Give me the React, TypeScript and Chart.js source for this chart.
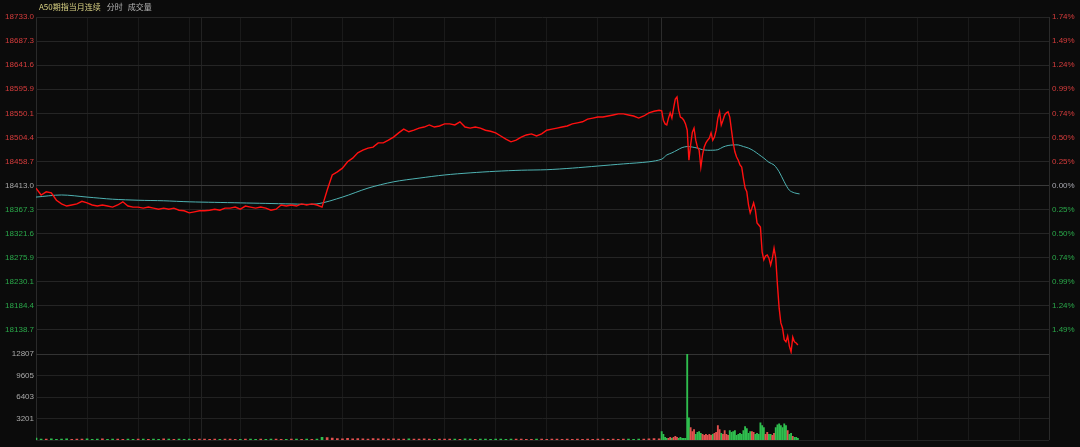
import React, { useEffect, useRef } from 'react';
import { Chart, registerables } from 'chart.js';

Chart.register(...registerables);

// ---------- data ----------
const BASE_PRICE = 18413.0;
const SESSION_MINUTES = 1190; // 17:00-05:15 night (735 min) + 09:00-16:35 day (455 min)
const DAY_OPEN = 735;

const priceTicks = [18733.0, 18687.3, 18641.6, 18595.9, 18550.1, 18504.4, 18458.7, 18413.0, 18367.3, 18321.6, 18275.9, 18230.1, 18184.4, 18138.7, 18093.0];
const priceTickLabels = ['18733.0', '18687.3', '18641.6', '18595.9', '18550.1', '18504.4', '18458.7', '18413.0', '18367.3', '18321.6', '18275.9', '18230.1', '18184.4', '18138.7', ''];
const percentTickLabels = ['1.74%', '1.49%', '1.24%', '0.99%', '0.74%', '0.50%', '0.25%', '0.00%', '0.25%', '0.50%', '0.74%', '0.99%', '1.24%', '1.49%', ''];
const volumeTicks = [12807, 9605, 6403, 3201, 0];
const volumeTickLabels = ['12807', '9605', '6403', '3201', ''];

const gridMinutes = [0, 60, 120, 180, 195, 240, 300, 360, 420, 480, 540, 600, 660, 720, 735, 795, 855, 915, 975, 1035, 1095, 1155, 1190];
const sessionMarks = [195, 735];

const NIGHT_STEP = 6;
const DAY_STEP = 2;
const AVG_NIGHT_STEP = 30;
const AVG_DAY_STEP = 6;

const nightPrice = [
  18408, 18395, 18401, 18399, 18385, 18378, 18374, 18376, 18378, 18383,
  18380, 18376, 18374, 18376, 18374, 18372, 18376, 18382, 18374, 18372,
  18372, 18370, 18372, 18370, 18368, 18370, 18368, 18370, 18366, 18365,
  18361, 18363, 18365, 18365, 18366, 18368, 18366, 18370, 18370, 18372,
  18368, 18374, 18372, 18370, 18372, 18370, 18366, 18368, 18376, 18374,
  18376, 18374, 18378, 18376, 18378, 18376, 18372, 18404, 18433, 18439,
  18446, 18458, 18465, 18475, 18480, 18484, 18486, 18494, 18494, 18499,
  18505, 18513, 18520, 18515, 18518, 18522, 18524, 18528, 18524, 18526,
  18530, 18530, 18528, 18534, 18524, 18522, 18524, 18522, 18518, 18516,
  18513, 18507, 18501, 18496, 18499, 18505, 18509, 18511, 18507, 18511,
  18518, 18520, 18522, 18524, 18526, 18530, 18532, 18534, 18539, 18541,
  18543, 18543, 18545, 18547, 18549, 18549, 18547, 18545, 18541, 18545,
  18551, 18554, 18556,
];

const dayPrice = [
  18555, 18537, 18530, 18528, 18541, 18551, 18541, 18560, 18577, 18581,
  18556, 18543, 18541, 18537, 18530, 18518, 18461, 18490, 18514, 18522,
  18499, 18486, 18480, 18448, 18471, 18486, 18494, 18499, 18503, 18513,
  18499, 18505, 18518, 18541, 18553, 18528, 18537, 18547, 18551, 18553,
  18543, 18518, 18494, 18477, 18467, 18461, 18452, 18448, 18427, 18408,
  18401, 18376, 18361, 18370, 18380, 18367, 18342, 18338, 18334, 18287,
  18272, 18279, 18281, 18275, 18262, 18275, 18294, 18275, 18224, 18180,
  18152, 18142, 18120, 18116, 18127, 18108, 18097, 18125, 18116, 18114,
  18110,
];

const avgNight = [
  18391, 18395, 18391, 18387, 18385, 18384, 18382, 18381, 18380, 18379,
  18378, 18378, 18391, 18408, 18420, 18427, 18433, 18437, 18440, 18442,
  18443, 18446, 18450, 18454, 18458,
];

const avgDay = [
  18463, 18471, 18475, 18480, 18485, 18487, 18486, 18484, 18481, 18480,
  18480, 18481, 18486, 18489, 18490, 18490, 18487, 18484, 18479, 18472,
  18465, 18457, 18452, 18439, 18420, 18404, 18399, 18397,
];

const nightVolume = [
  300, 150, 180, 220, 140, 160, 200, 130, 170, 150,
  190, 140, 160, 210, 130, 150, 170, 140, 180, 120,
  160, 150, 130, 170, 140, 190, 150, 120, 160, 140,
  170, 130, 150, 180, 140, 160, 120, 150, 170, 140,
  130, 160, 150, 140, 180, 120, 150, 160, 140, 130,
  170, 150, 140, 160, 130, 150, 420, 380, 300, 250,
  220, 260, 200, 240, 210, 180, 230, 190, 200, 170,
  210, 180, 160, 200, 170, 150, 190, 160, 140, 180,
  150, 170, 160, 140, 190, 150, 130, 170, 160, 140,
  150, 180, 140, 160, 150, 170, 140, 130, 160, 150,
  140, 170, 150, 130, 160, 140, 150, 120, 170, 140,
  150, 160, 130, 150, 140, 170, 160, 130, 150, 180,
  200, 250, 220,
];

const dayVolume = [
  1295, 863, 432, 288, 288, 432, 288, 432, 576, 432,
  288, 432, 288, 288, 288, 12807, 3310, 1871, 1295, 1583,
  863, 1151, 1295, 1007, 863, 720, 863, 720, 863, 720,
  863, 1007, 1151, 2159, 1583, 1007, 863, 1439, 863, 720,
  1439, 1151, 1295, 1439, 720, 863, 1007, 863, 1439, 2015,
  1727, 1007, 1295, 1295, 1151, 863, 1007, 863, 2590, 2159,
  1871, 863, 1151, 863, 863, 720, 1007, 1871, 2302, 2446,
  2159, 1871, 2446, 2159, 1439, 863, 1007, 576, 432, 432,
  288,
];

// ---------- style ----------
const BG = '#0b0b0b';
const UP = '#e2514f';
const DOWN = '#2fbe4e';
const TEXT_UP = '#d63c3c';
const TEXT_DOWN = '#2aa84a';
const TEXT_FLAT = '#a9a9a9';
const FONT = '"Liberation Sans", Arial, sans-serif';

const xGridColor = (v: number) => {
  if (v === 0 || v === SESSION_MINUTES) return '#2a2a2a';
  if (v === DAY_OPEN) return '#2c2c2c';
  if (sessionMarks.includes(v)) return '#222222';
  return '#1a1a1a';
};

const makeXScale = () => ({
  type: 'linear' as const,
  min: 0,
  max: SESSION_MINUTES,
  offset: false,
  display: true,
  border: { display: false },
  ticks: { display: false },
  grid: {
    offset: false,
    drawTicks: false,
    lineWidth: 1,
    color: (ctx: any) => xGridColor(ctx.tick ? ctx.tick.value : 0),
  },
  afterBuildTicks: (axis: any) => {
    axis.ticks = gridMinutes.map((v) => ({ value: v }));
  },
  afterFit: (axis: any) => {
    axis.height = 0;
  },
});

export default function App() {
  const priceRef = useRef<HTMLCanvasElement>(null);
  const volRef = useRef<HTMLCanvasElement>(null);

  useEffect(() => {
    Chart.defaults.font.family = FONT;
    Chart.defaults.font.size = 8;

    const pricePoints = [
      ...nightPrice.map((p, i) => ({ x: i * NIGHT_STEP, y: p })),
      ...dayPrice.map((p, j) => ({ x: DAY_OPEN + j * DAY_STEP, y: p })),
    ];
    const avgPoints = [
      ...avgNight.map((p, i) => ({ x: i * AVG_NIGHT_STEP, y: p })),
      ...avgDay.map((p, j) => ({ x: DAY_OPEN + j * AVG_DAY_STEP, y: p })),
    ];

    const nightColors = nightVolume.map((_, i) => {
      const prev = i === 0 ? BASE_PRICE : nightPrice[i - 1];
      return nightPrice[i] >= prev ? UP : DOWN;
    });
    const dayColors = dayVolume.map((_, j) => {
      const prev = j === 0 ? nightPrice[nightPrice.length - 1] : dayPrice[j - 1];
      return dayPrice[j] >= prev ? UP : DOWN;
    });

    const priceColor = (v: number) =>
      Math.abs(v - BASE_PRICE) < 0.05 ? TEXT_FLAT : v > BASE_PRICE ? TEXT_UP : TEXT_DOWN;

    const priceChart = new Chart(priceRef.current as HTMLCanvasElement, {
      type: 'line',
      data: {
        datasets: [
          {
            data: pricePoints,
            borderColor: '#ff1010',
            borderWidth: 1.4,
            pointRadius: 0,
            tension: 0,
            yAxisID: 'y',
          },
          {
            data: avgPoints,
            borderColor: '#4fb3b3',
            borderWidth: 1,
            pointRadius: 0,
            tension: 0.3,
            yAxisID: 'y',
          },
        ],
      },
      options: {
        responsive: false,
        devicePixelRatio: 1,
        animation: false,
        events: [],
        layout: { padding: { top: 17, bottom: 447 - 354, left: 0, right: 0 } },
        plugins: { legend: { display: false }, tooltip: { enabled: false } },
        scales: {
          x: makeXScale() as any,
          y: {
            type: 'linear',
            position: 'left',
            min: 18093.0,
            max: 18733.0,
            border: { display: false },
            grid: {
              drawTicks: false,
              color: (ctx: any) =>
                ctx.tick && Math.abs(ctx.tick.value - BASE_PRICE) < 0.05 ? '#3a3a3a' : '#252525',
            },
            ticks: {
              padding: 2,
              color: (ctx: any) => priceColor(ctx.tick.value),
              callback: (_v: any, i: number) => priceTickLabels[i],
            },
            afterBuildTicks: (axis: any) => {
              axis.ticks = priceTicks.map((v) => ({ value: v }));
            },
            afterFit: (axis: any) => {
              axis.width = 36;
            },
          },
          yr: {
            type: 'linear',
            position: 'right',
            min: 18093.0,
            max: 18733.0,
            border: { display: false },
            grid: { display: false, drawTicks: false },
            ticks: {
              padding: 3,
              color: (ctx: any) => {
                const v = ctx.tick.value;
                return Math.abs(v - BASE_PRICE) < 0.05 ? '#a8a8b0' : v > BASE_PRICE ? TEXT_UP : TEXT_DOWN;
              },
              callback: (_v: any, i: number) => percentTickLabels[i],
            },
            afterBuildTicks: (axis: any) => {
              axis.ticks = priceTicks.map((v) => ({ value: v }));
            },
            afterFit: (axis: any) => {
              axis.width = 1080 - 1049;
            },
          },
        },
      },
    } as any);

    const volChart = new Chart(volRef.current as HTMLCanvasElement, {
      type: 'bar',
      data: {
        datasets: [
          {
            data: nightVolume.map((v, i) => ({ x: i * NIGHT_STEP, y: v })),
            backgroundColor: nightColors,
            barThickness: 2,
            grouped: false,
          },
          {
            data: dayVolume.map((v, j) => ({ x: DAY_OPEN + j * DAY_STEP, y: v })),
            backgroundColor: dayColors,
            barThickness: 1.2,
            grouped: false,
          },
        ],
      },
      options: {
        responsive: false,
        devicePixelRatio: 1,
        animation: false,
        events: [],
        layout: { padding: { top: 354, bottom: 4, left: 0, right: 1080 - 1049 } },
        plugins: { legend: { display: false }, tooltip: { enabled: false } },
        scales: {
          x: makeXScale() as any,
          y: {
            type: 'linear',
            position: 'left',
            min: 0,
            max: 12807,
            border: { display: false },
            grid: {
              drawTicks: false,
              color: (ctx: any) => (ctx.tick && ctx.tick.value === 12807 ? '#333333' : '#222222'),
            },
            ticks: {
              padding: 2,
              color: '#a9a9a9',
              callback: (_v: any, i: number) => volumeTickLabels[i],
            },
            afterBuildTicks: (axis: any) => {
              axis.ticks = volumeTicks.map((v) => ({ value: v }));
            },
            afterFit: (axis: any) => {
              axis.width = 36;
            },
          },
        },
      },
    } as any);

    return () => {
      priceChart.destroy();
      volChart.destroy();
    };
  }, []);

  return (
    <div
      style={{
        position: 'fixed',
        left: 0,
        top: 0,
        width: 1080,
        height: 447,
        background: BG,
        overflow: 'hidden',
      }}
    >
      <canvas ref={priceRef} width={1080} height={447} style={{ position: 'absolute', left: 0, top: 0 }} />
      <canvas ref={volRef} width={1080} height={447} style={{ position: 'absolute', left: 0, top: 0 }} />
      <div
        style={{
          position: 'absolute',
          left: 39,
          top: 1,
          fontSize: 8,
          lineHeight: '11px',
          fontFamily: '"Noto Sans CJK SC", "Liberation Sans", sans-serif',
          whiteSpace: 'nowrap',
        }}
      >
        <span style={{ color: '#d9d183' }}>A50期指当月连续</span>
        <span style={{ color: '#b5b5b5', marginLeft: 6 }}>分时</span>
        <span style={{ color: '#b5b5b5', marginLeft: 5 }}>成交量</span>
      </div>
    </div>
  );
}
